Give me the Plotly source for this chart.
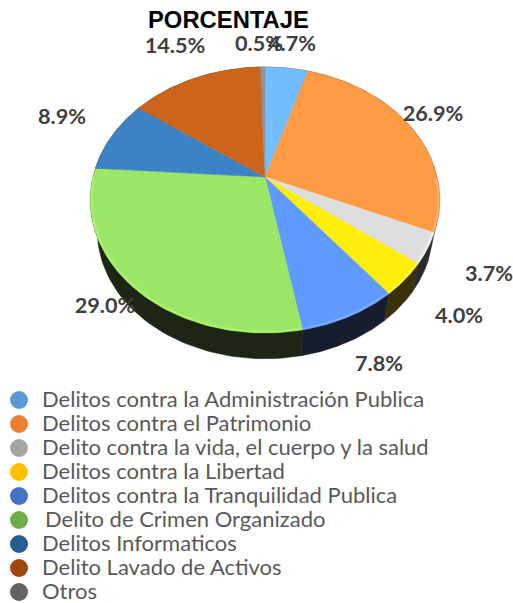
import numpy as np
import plotly.graph_objects as go

# ---- data ----
categories = [
    "Delitos contra la Administración Publica",
    "Delitos contra el Patrimonio",
    "Delito contra la vida, el cuerpo y la salud",
    "Delitos contra la Libertad",
    "Delitos contra la Tranquilidad Publica",
    "Delito de Crimen Organizado",
    "Delitos Informaticos",
    "Delito Lavado de Activos",
    "Otros",
]
values = [4.7, 26.9, 3.7, 4.0, 7.8, 29.0, 8.9, 14.5, 0.5]

# ---- styles ----
top_colors = ["#73BCFF", "#FF9B45", "#DEDEDE", "#FFEE0A", "#5F9BFF", "#9BE666", "#3C83C6", "#CC641C", "#8C959C"]
rim_colors = ["#8CCBFF", "#FFB066", "#F0F0F0", "#FFF44A", "#76A9FF", "#A8F26C", "#4E95D6", "#DC7A30", "#A0A8AE"]
side_colors = ["#20303F", "#4A2C12", "#2B2B2B", "#3B3106", "#151D2F", "#1D2614", "#121C28", "#3A2008", "#222222"]
legend_colors = ["#5B9BD5", "#ED7D31", "#A5A5A5", "#FFC000", "#4472C4", "#70AD47", "#255E91", "#9E480E", "#636363"]
label_pos = [(292, 46), (433, 116), (489, 276), (459, 318), (379, 366), (105, 308), (62, 119), (175, 48), (259, 46)]
legend_y = [401, 425, 449, 473, 497, 521, 545, 569, 593]
marker_y = [400, 424, 448, 472, 496, 520, 544, 568, 592]
legend_text_x = [42, 42, 42, 42, 42, 45, 42, 42, 42]

W, H = 513, 603
CX, CY = 265.0, 177.0     # apex of the pie on the page
A, B, K = 129.0, 172.0, 0.173  # tilt (vertical), width, perspective strength
DEPTH, SHRINK = 32.0, 0.96


def project(theta, r=1.0):
    """Project a point of the flat pie (clockwise angle from 12 o'clock) to the tilted page."""
    u, v = r * np.sin(theta), r * np.cos(theta)
    w = 1 + K * v
    return CX + B * u / w, CY - A * v / w


fracs = np.array(values) / sum(values)
edges = np.concatenate([[0], np.cumsum(fracs)]) * 2 * np.pi

fig = go.Figure()


def poly(x, y, color):
    fig.add_trace(go.Scatter(x=x, y=y, mode="lines", fill="toself", fillcolor=color,
                             line=dict(color=color, width=0.5), hoverinfo="skip", showlegend=False))


# side wall
for i, c in enumerate(side_colors):
    th = np.linspace(edges[i], edges[i + 1], 60)
    x, y = project(th)
    xb = CX + SHRINK * (x - CX)
    yb = CY + SHRINK * (y - CY) + DEPTH
    poly(np.r_[x, xb[::-1], x[0]], np.r_[y, yb[::-1], y[0]], c)

# top face
for i, c in enumerate(top_colors):
    th = np.linspace(edges[i], edges[i + 1], 80)
    x, y = project(th)
    poly(np.r_[CX, x, CX], np.r_[CY, y, CY], c)

# lit bevel along the front rim
for i, c in enumerate(rim_colors):
    th = np.linspace(edges[i], edges[i + 1], 80)
    th = th[np.cos(th) < 0.0]
    if len(th) > 1:
        x, y = project(th, 0.993)
        fig.add_trace(go.Scatter(x=x, y=y, mode="lines", line=dict(color=c, width=2),
                                 hoverinfo="skip", showlegend=False))

# legend markers and names
fig.add_trace(go.Scatter(x=[19] * len(categories), y=marker_y, mode="markers",
                         marker=dict(size=18, color=legend_colors), hoverinfo="skip", showlegend=False))
fig.add_trace(go.Scatter(x=legend_text_x, y=legend_y, mode="text", text=categories,
                         textposition="middle right",
                         textfont=dict(family="Lato", size=22, color="#595959"),
                         hoverinfo="skip", showlegend=False))

# value labels
fig.add_trace(go.Scatter(x=[p[0] for p in label_pos], y=[p[1] for p in label_pos], mode="text",
                         text=[f"{v:.1f}%" for v in values], textposition="middle center",
                         textfont=dict(family="Lato", size=21.7, color="#404040", weight="bold"),
                         hoverinfo="skip", showlegend=False))

# title
fig.add_annotation(x=228, y=19, xref="x", yref="y", text="<b>PORCENTAJE</b>", showarrow=False,
                   font=dict(family="Liberation Sans", size=23.8, color="#000000"))

fig.update_layout(
    width=W, height=H, margin=dict(l=0, r=0, t=0, b=0),
    paper_bgcolor="white", plot_bgcolor="white", showlegend=False,
    xaxis=dict(range=[0, W], visible=False, fixedrange=True),
    yaxis=dict(range=[H, 0], visible=False, fixedrange=True),
)
fig.write_html("out.html", config={"displayModeBar": False},
               post_script="document.body.style.margin='0';document.documentElement.style.overflow='hidden';")
